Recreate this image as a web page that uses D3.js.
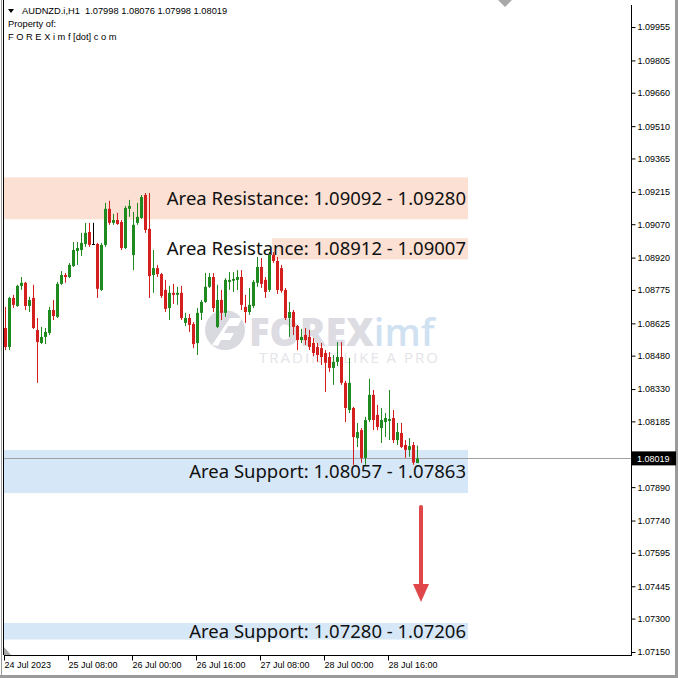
<!DOCTYPE html>
<html><head><meta charset="utf-8">
<script src="https://cdn.jsdelivr.net/npm/d3@7/dist/d3.min.js"></script>
<style>html,body{margin:0;padding:0;background:#fff}svg{display:block}</style>
</head><body><svg id="c" width="678" height="678"></svg>
<script>
const symbolTitle = "AUDNZD.i,H1  1.07998 1.08076 1.07998 1.08019";
const xTickLabels = ["24 Jul 2023","25 Jul 08:00","26 Jul 00:00","26 Jul 16:00","27 Jul 08:00","28 Jul 00:00","28 Jul 16:00"];
const xTickIndex = [0,16,32,48,64,80,96];
const yTickValues = [1.09955,1.09805,1.09660,1.09510,1.09365,1.09215,1.09070,1.08920,1.08775,1.08625,1.08480,1.08330,1.08185,1.08035,1.07890,1.07740,1.07595,1.07445,1.07300,1.07150];
const lastPrice = 1.08019;

const opens = [1.08604,1.08519,1.08739,1.08703,1.08793,1.08807,1.08703,1.08739,1.08595,1.08537,
1.08564,1.08582,1.08685,1.08654,1.08802,1.08842,1.08833,1.08882,1.08950,1.08954,
1.08981,1.09035,1.08981,1.08981,1.08775,1.08977,1.09139,1.09076,1.09089,1.09080,
1.08963,1.09139,1.08932,1.09076,1.09098,1.09201,1.09049,1.08842,1.08873,1.08846,
1.08775,1.08694,1.08762,1.08753,1.08762,1.08627,1.08649,1.08622,1.08537,1.08672,
1.08721,1.08789,1.08833,1.08609,1.08730,1.08672,1.08811,1.08816,1.08820,1.08833,
1.08699,1.08676,1.08703,1.08807,1.08878,1.08820,1.08775,1.08932,1.08905,1.08873,
1.08775,1.08649,1.08676,1.08613,1.08550,1.08573,1.08564,1.08537,1.08519,1.08514,
1.08492,1.08474,1.08425,1.08452,1.08474,1.08358,1.08236,1.08245,1.08110,1.08146,
1.08021,1.08191,1.08304,1.08214,1.08155,1.08182,1.08187,1.08200,1.08101,1.08133,
1.08079,1.08057,1.08079,1.07998];
const highs = [1.08699,1.08744,1.08753,1.08798,1.08833,1.08811,1.08744,1.08798,1.08649,1.08609,
1.08604,1.08699,1.08730,1.08811,1.08860,1.08851,1.08896,1.08990,1.08990,1.09031,
1.09076,1.09076,1.09076,1.08986,1.08986,1.09166,1.09175,1.09116,1.09121,1.09089,
1.09152,1.09179,1.09125,1.09166,1.09201,1.09210,1.09210,1.08954,1.08887,1.08851,
1.08820,1.08793,1.08802,1.08789,1.08793,1.08672,1.08667,1.08631,1.08694,1.08730,
1.08851,1.08851,1.08851,1.08798,1.08775,1.08828,1.08855,1.08855,1.08864,1.08864,
1.08753,1.08784,1.08820,1.08923,1.08918,1.08833,1.08945,1.08945,1.08923,1.08887,
1.08784,1.08721,1.08685,1.08618,1.08600,1.08604,1.08595,1.08559,1.08537,1.08537,
1.08505,1.08496,1.08483,1.08541,1.08541,1.08367,1.08470,1.08250,1.08178,1.08155,
1.08205,1.08376,1.08326,1.08259,1.08245,1.08223,1.08326,1.08236,1.08178,1.08178,
1.08101,1.08110,1.08092,1.08076];
const lows = [1.08505,1.08505,1.08694,1.08699,1.08775,1.08685,1.08676,1.08600,1.08358,1.08532,
1.08532,1.08573,1.08640,1.08649,1.08798,1.08807,1.08828,1.08878,1.08887,1.08927,
1.08968,1.08968,1.08977,1.08739,1.08770,1.08968,1.09067,1.09067,1.09067,1.08954,
1.08959,1.09103,1.08864,1.09067,1.09094,1.09031,1.08739,1.08762,1.08833,1.08739,
1.08676,1.08640,1.08712,1.08708,1.08640,1.08613,1.08586,1.08514,1.08483,1.08640,
1.08717,1.08784,1.08676,1.08604,1.08640,1.08654,1.08775,1.08766,1.08775,1.08685,
1.08627,1.08663,1.08694,1.08789,1.08784,1.08739,1.08766,1.08896,1.08757,1.08762,
1.08640,1.08564,1.08573,1.08505,1.08537,1.08528,1.08505,1.08478,1.08452,1.08438,
1.08317,1.08407,1.08349,1.08434,1.08349,1.08182,1.08223,1.07990,1.08070,1.07999,
1.07990,1.08182,1.08146,1.08146,1.08088,1.08115,1.08101,1.08088,1.08079,1.08065,
1.08021,1.08026,1.07990,1.07998];
const closes = [1.08519,1.08739,1.08708,1.08793,1.08807,1.08703,1.08730,1.08604,1.08541,1.08564,
1.08586,1.08685,1.08658,1.08802,1.08842,1.08833,1.08887,1.08954,1.08963,1.08986,
1.09031,1.08977,1.08981,1.08780,1.08977,1.09139,1.09076,1.09089,1.09071,1.08963,
1.09143,1.09152,1.09067,1.09103,1.09192,1.09044,1.08837,1.08873,1.08846,1.08748,
1.08690,1.08762,1.08753,1.08762,1.08649,1.08649,1.08618,1.08532,1.08672,1.08721,
1.08789,1.08833,1.08694,1.08730,1.08672,1.08820,1.08820,1.08824,1.08833,1.08708,
1.08676,1.08708,1.08811,1.08878,1.08802,1.08766,1.08932,1.08905,1.08775,1.08771,
1.08649,1.08676,1.08609,1.08550,1.08564,1.08550,1.08519,1.08492,1.08483,1.08474,
1.08448,1.08425,1.08452,1.08474,1.08358,1.08245,1.08358,1.08115,1.08137,1.08021,
1.08191,1.08304,1.08191,1.08160,1.08191,1.08200,1.08196,1.08101,1.08137,1.08070,
1.08057,1.08074,1.08000,1.08019];

const zoneNames = ["Area Resistance","Area Resistance","Area Support","Area Support"];
const zoneFrom = [1.09092,1.08912,1.08057,1.07280];
const zoneTo = [1.09280,1.09007,1.07863,1.07206];
const zoneKind = ["res","res","sup","sup"];
const arrowFrom = 1.07801, arrowTo = 1.07374;

const svg = d3.select("#c");
const font = "'Liberation Sans', Arial, sans-serif";
const PL = 4, PR = 631, PT = 5, PB = 655;

const y = d3.scaleLinear().domain([1.07150, 1.09955]).range([652, 27]);
const x = d3.scaleLinear().domain([0, 103]).range([5, 417]);

svg.append("rect").attr("width",678).attr("height",678).attr("fill","#fff");

// zones
const zoneFill = {res:"#fbe0d3", sup:"#d6e7f7"};
const zoneStart = [PL, 272, PL, PL];
zoneFrom.forEach((v,i)=>{
  const y1 = y(Math.max(v, zoneTo[i])), y2 = y(Math.min(v, zoneTo[i]));
  svg.append("rect").attr("x", zoneStart[i]).attr("y", y1).attr("width", 468 - zoneStart[i]).attr("height", y2 - y1).attr("fill", zoneFill[zoneKind[i]]);
});

// watermark
const wm = svg.append("g").attr("opacity",0.85);
wm.append("circle").attr("cx",225).attr("cy",330).attr("r",20).attr("fill","#d3d3db");
wm.append("path").attr("d","M212,345 L230,318 L242,318 L238,326 L228,326 L224,333 L234,333 L230,340 L221,340 L218,346 Z").attr("fill","#fff");
wm.append("text").attr("x",249).attr("y",346).attr("font-family","'Open Sans', sans-serif").attr("font-weight",800).attr("font-size",38).attr("fill","#d6d6de").text("FOREX")
  .append("tspan").attr("fill","#c8dcf0").attr("font-weight",600).text("imf");
wm.append("text").attr("x",259).attr("y",363).attr("font-family","'Open Sans', sans-serif").attr("font-size",15).attr("letter-spacing",2).attr("fill","#e0e0e6").text("TRADING LIKE A PRO");

// current price line
svg.append("line").attr("x1",PL).attr("x2",PR).attr("y1",Math.round(y(lastPrice))+0.5).attr("y2",Math.round(y(lastPrice))+0.5).attr("stroke","#a0a0a0").attr("stroke-width",1);

// candles
const up = "#1f8a1f", dn = "#d41f1f";
const idx = d3.range(opens.length);
const g = svg.append("g");
idx.forEach(i=>{
  const o = opens[i], c = closes[i];
  const col = c > o ? up : (c < o ? dn : "#000");
  const cx = Math.round(x(i)) + 0.5;
  g.append("line").attr("x1",cx).attr("x2",cx).attr("y1",y(highs[i])).attr("y2",y(lows[i])).attr("stroke",col).attr("stroke-width",1);
  const t = y(Math.max(o,c)), b = y(Math.min(o,c));
  g.append("rect").attr("x",cx-1.5).attr("y",t).attr("width",3).attr("height",Math.max(1,b-t)).attr("fill",col);
});

// zone labels
zoneFrom.forEach((v,i)=>{
  const ym = (y(v)+y(zoneTo[i]))/2;
  svg.append("text").attr("x",466).attr("y",ym).attr("dy","0.36em").attr("text-anchor","end")
    .attr("font-family","'Noto Sans', 'Open Sans', sans-serif").attr("font-size",18.5).attr("fill","#111")
    .text(`${zoneNames[i]}: ${v.toFixed(5)} - ${zoneTo[i].toFixed(5)}`);
});

// arrow
const ax = 421;
svg.append("line").attr("x1",ax).attr("x2",ax).attr("y1",y(arrowFrom)).attr("y2",y(arrowTo)-14).attr("stroke","#e0474a").attr("stroke-width",4).attr("stroke-linecap","round");
svg.append("path").attr("d",`M${ax-8},${y(arrowTo)-18} L${ax+8},${y(arrowTo)-18} L${ax},${y(arrowTo)} Z`).attr("fill","#e0474a");

// frame
svg.append("line").attr("x1",PL-0.5).attr("x2",PL-0.5).attr("y1",0).attr("y2",PB).attr("stroke","#000");
svg.append("line").attr("x1",PL-2.5).attr("x2",PL-2.5).attr("y1",0).attr("y2",678).attr("stroke","#9a9a9a");
svg.append("line").attr("x1",PR+0.5).attr("x2",PR+0.5).attr("y1",PT).attr("y2",PB).attr("stroke","#000");
svg.append("line").attr("x1",PL).attr("x2",PR+1).attr("y1",PB+0.5).attr("y2",PB+0.5).attr("stroke","#000");
svg.append("line").attr("x1",0).attr("x2",678).attr("y1",676.5).attr("y2",676.5).attr("stroke","#9a9a9a").attr("stroke-width",3);
svg.append("line").attr("x1",676.5).attr("x2",676.5).attr("y1",0).attr("y2",678).attr("stroke","#9a9a9a").attr("stroke-width",3);
svg.append("path").attr("d","M498,0 L512,0 L505,7 Z").attr("fill","#a8a8a8");
svg.append("path").attr("d",`M${PL},${PB-8} L${PL+7},${PB} L${PL},${PB} Z`).attr("fill","#a8a8a8");

// y axis
const yAxis = d3.axisRight(y).tickValues(yTickValues).tickSize(4).tickFormat(d3.format(".5f"));
const ya = svg.append("g").attr("transform",`translate(${PR+0.5},0)`).call(yAxis);
ya.select(".domain").remove();
ya.selectAll("line").attr("stroke","#000");
ya.selectAll("text").attr("font-family",font).attr("font-size",9).attr("fill","#000").attr("x",6);

// price box
const py = y(lastPrice);
svg.append("rect").attr("x",PR+1).attr("y",py-7).attr("width",44).attr("height",14).attr("fill","#000");
svg.append("text").attr("x",PR+6).attr("y",py).attr("dy","0.35em").attr("font-family",font).attr("font-size",9).attr("fill","#fff").text(lastPrice.toFixed(5));

// x axis
const xa = svg.append("g").attr("transform",`translate(0,${PB+0.5})`)
  .call(d3.axisBottom(x).tickValues(xTickIndex).tickSize(5).tickFormat((d,i)=>xTickLabels[i]));
xa.select(".domain").remove();
xa.selectAll("line").attr("stroke","#000").attr("transform","translate(-1,0)");
xa.selectAll("text").attr("font-family",font).attr("font-size",9).attr("fill","#000").attr("text-anchor","start").attr("x",-1).attr("y",6);

// header
svg.append("path").attr("d","M8,9 L14,9 L11,13 Z").attr("fill","#000");
const hd = [[symbolTitle,22,14],["Property of:",8,27],["F O R E X i m f [dot] c o m",8,40]];
hd.forEach(d=>svg.append("text").attr("x",d[1]).attr("y",d[2]).attr("font-family",font).attr("font-size",9.3).attr("fill","#000").attr("xml:space","preserve").style("white-space","pre").text(d[0]));
</script></body></html>
